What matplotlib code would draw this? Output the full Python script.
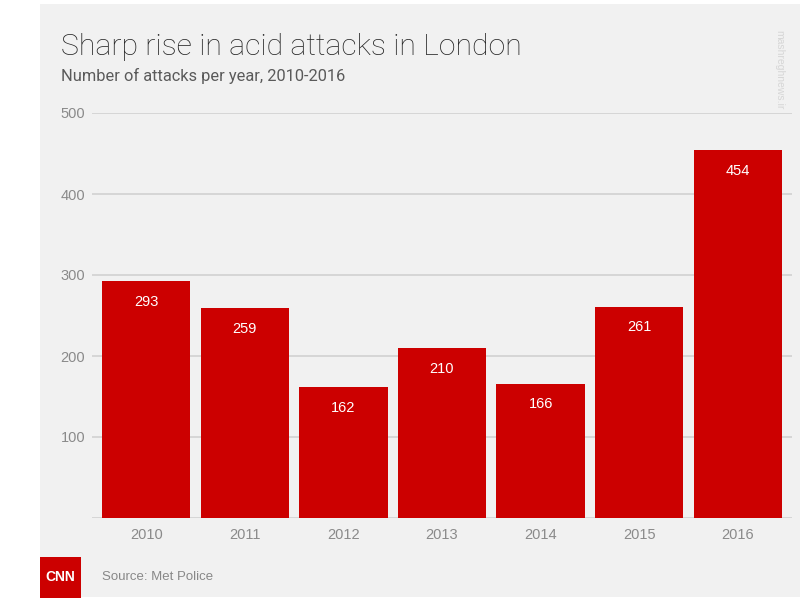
import matplotlib.pyplot as plt
from matplotlib.patches import Rectangle

years = ['2010', '2011', '2012', '2013', '2014', '2015', '2016']
attacks = [293, 259, 162, 210, 166, 261, 454]
y_ticks = [100, 200, 300, 400, 500]

title = 'Sharp rise in acid attacks in London'
subtitle = 'Number of attacks per year, 2010-2016'
source = 'Source: Met Police'

bar_color = '#cc0000'
panel_color = '#f1f1f1'
grid_color = '#d4d4d4'
tick_color = '#8a8a8a'

plt.rcParams['font.family'] = ['Liberation Sans', 'DejaVu Sans']
light_font = ['Roboto', 'Liberation Sans', 'DejaVu Sans']

fig = plt.figure(figsize=(8, 6.04), dpi=100)
fig.patch.set_facecolor('white')

# grey card behind everything (pixel coords converted to figure fraction)
W, H = 800, 604
fig.patches.append(Rectangle((40 / W, 1 - 597 / H), 760 / W, 593 / H,
                             transform=fig.transFigure, facecolor=panel_color,
                             edgecolor='none', zorder=-5))

ax = fig.add_axes([92 / W, 1 - 518 / H, 700 / W, 405 / H])
ax.set_facecolor('none')
ax.set_zorder(2)

x = list(range(len(years)))
bars = ax.bar(x, attacks, width=0.895, color=bar_color, zorder=3)
for b, v in zip(bars, attacks):
    ax.annotate(str(v), (b.get_x() + b.get_width() / 2, v),
                xytext=(0, -15), textcoords='offset points',
                ha='center', va='center', color='white', fontsize=10.5, zorder=4)

ax.set_xlim(-0.55, 6.55)
ax.set_ylim(0, 500)
ax.set_xticks(x)
ax.set_xticklabels(years)
ax.set_yticks(y_ticks)
ax.tick_params(length=0, labelsize=10.5, labelcolor=tick_color)
ax.tick_params(axis='y', pad=5)
ax.tick_params(axis='x', pad=7)
for yv in [0] + y_ticks:
    ax.axhline(yv, color=grid_color, lw=1.3, zorder=1)
for s in ax.spines.values():
    s.set_visible(False)

fig.text(61 / W, 1 - 47 / H, title, fontsize=21.8, weight='light',
         family=light_font, color='#262626', va='center', ha='left')
fig.text(61 / W, 1 - 76 / H, subtitle, fontsize=11.8, family=light_font,
         color='#5a5a5a', va='center', ha='left')

# CNN badge and source line
fig.patches.append(Rectangle((40 / W, 1 - 598 / H), 41 / W, 41 / H,
                             transform=fig.transFigure, facecolor=bar_color,
                             edgecolor='none', zorder=1))
fig.text(60.5 / W, 1 - 577 / H, 'CNN', fontsize=10, weight='bold', color='white',
         ha='center', va='center')
fig.text(102 / W, 1 - 577 / H, source, fontsize=9.5, color='#888888',
         va='center', ha='left')

# faint watermark in the top right corner
fig.text(779 / W, 1 - 70 / H, 'mashreghnews.ir', fontsize=7.5, color='#d6d6d6',
         rotation=-90, ha='center', va='center')

fig.savefig('out.png', dpi=100, facecolor=fig.get_facecolor())
